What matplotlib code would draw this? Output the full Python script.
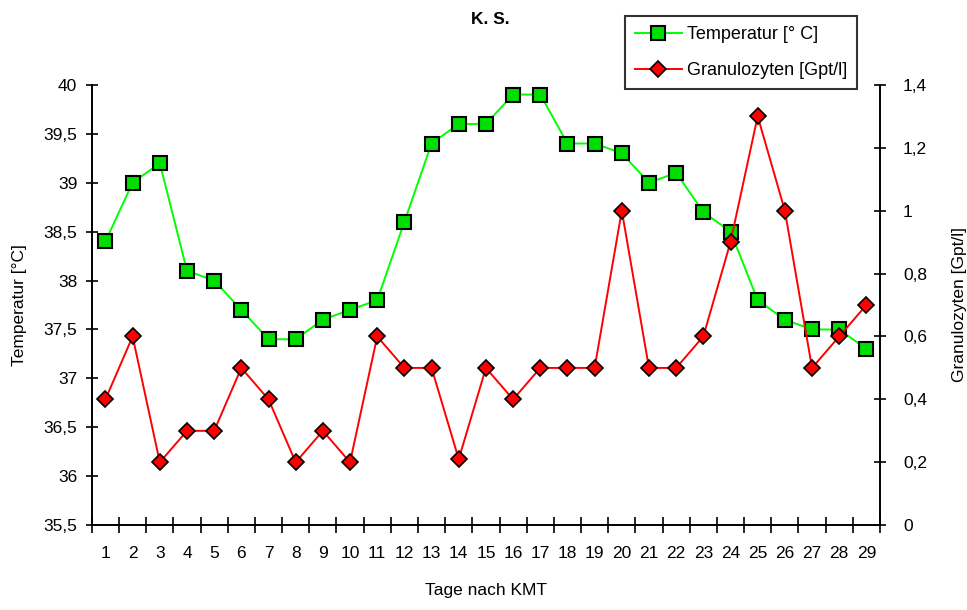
import numpy as np
import matplotlib
matplotlib.use("Agg")
import matplotlib.pyplot as plt
from matplotlib.ticker import FixedLocator, FuncFormatter

plt.rcParams['font.family'] = ['Liberation Sans', 'DejaVu Sans']

# Data
days = list(range(1, 30))
temperatur = [38.4, 39.0, 39.2, 38.1, 38.0, 37.7, 37.4, 37.4, 37.6, 37.7,
              37.8, 38.6, 39.4, 39.6, 39.6, 39.9, 39.9, 39.4, 39.4, 39.3,
              39.0, 39.1, 38.7, 38.5, 37.8, 37.6, 37.5, 37.5, 37.3]
granulozyten = [0.4, 0.6, 0.2, 0.3, 0.3, 0.5, 0.4, 0.2, 0.3, 0.2,
                0.6, 0.5, 0.5, 0.21, 0.5, 0.4, 0.5, 0.5, 0.5, 1.0,
                0.5, 0.5, 0.6, 0.9, 1.3, 1.0, 0.5, 0.6, 0.7]
left_ticks = [35.5, 36, 36.5, 37, 37.5, 38, 38.5, 39, 39.5, 40]
right_ticks = [0, 0.2, 0.4, 0.6, 0.8, 1.0, 1.2, 1.4]


def komma(v, pos=None):
    s = f"{v:g}"
    return s.replace('.', ',')


fig = plt.figure(figsize=(9.67, 6.1), dpi=100)
ax = fig.add_axes([0.095, 0.139, 0.815, 0.722])
ax2 = ax.twinx()

l1, = ax.plot(days, temperatur, color='#00ff00', lw=1.4, marker='s', ms=10,
              mfc='#00dd00', mec='black', mew=1.5, label='Temperatur [° C]', zorder=3)
l2, = ax2.plot(days, granulozyten, color='#ff0000', lw=1.4, marker='D', ms=8,
               mfc='#ff0000', mec='black', mew=1.2, label='Granulozyten [Gpt/l]', zorder=3)

ax.set_xlim(0.5, 29.5)
ax.set_ylim(35.5, 40)
ax2.set_ylim(0, 1.4)

ax.set_xticks(days)
ax.xaxis.set_minor_locator(FixedLocator(np.arange(0.5, 30, 1)))
ax.tick_params(axis='x', which='major', length=0, pad=15, labelsize=12.5)
ax.tick_params(axis='x', which='minor', direction='inout', length=12, width=1.2)
ax.yaxis.set_major_locator(FixedLocator(left_ticks))
ax.yaxis.set_major_formatter(FuncFormatter(komma))
ax.tick_params(axis='y', direction='inout', length=9, width=1.2, labelsize=12.5, pad=6)
ax2.yaxis.set_major_locator(FixedLocator(right_ticks))
ax2.yaxis.set_major_formatter(FuncFormatter(komma))
ax2.tick_params(axis='y', direction='inout', length=9, width=1.2, labelsize=12.5, pad=12)

for a in (ax, ax2):
    a.spines['top'].set_visible(False)
    for s in ('left', 'right', 'bottom'):
        a.spines[s].set_linewidth(1.2)

ax.set_xlabel('Tage nach KMT', fontsize=12.5, labelpad=16)
ax.set_ylabel('Temperatur [°C]', fontsize=12.5, labelpad=12)
ax2.set_ylabel('Granulozyten [Gpt/l]', fontsize=12.5, labelpad=18)

fig.text(0.507, 0.968, 'K. S.', ha='center', va='center', fontsize=12.5, fontweight='bold')

leg = fig.legend(handles=[l1, l2], loc='upper left', bbox_to_anchor=(0.646, 0.973),
                 fontsize=13, frameon=True, fancybox=False, edgecolor='black',
                 handlelength=2.6, borderpad=0.55, labelspacing=1.05, handletextpad=0.3,
                 borderaxespad=0)
leg.get_frame().set_linewidth(1.5)

fig.savefig('out.png', dpi=100)
